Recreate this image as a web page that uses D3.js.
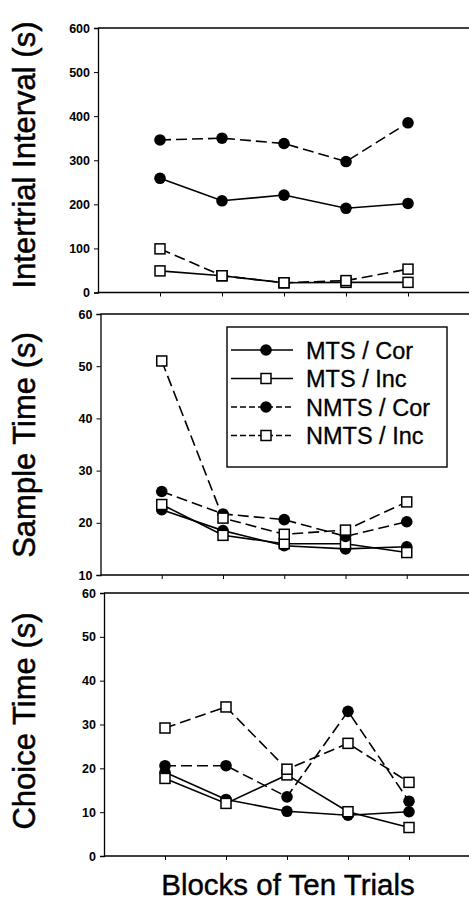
<!DOCTYPE html>
<html>
<head>
<meta charset="utf-8">
<script src="https://cdn.jsdelivr.net/npm/d3@7"></script>
<style>
  html, body { margin: 0; padding: 0; background: #fff; }
  svg { display: block; font-family: "Liberation Sans", Arial, sans-serif; }
</style>
</head>
<body>
<svg id="chart" width="469" height="911"></svg>
<script>
// block numbers on the x axis
const blocks = [1, 2, 3, 4, 5];

// Intertrial interval (s)
const itiMtsCor = [259, 208, 221, 191, 202];
const itiMtsInc = [49, 38, 22, 23, 23];
const itiNmtsCor = [346, 350, 338, 297, 385];
const itiNmtsInc = [99, 38, 22, 27, 53];

// Sample time (s)
const sampleMtsCor = [22.5, 18.5, 15.6, 15.0, 15.4];
const sampleMtsInc = [23.5, 17.6, 16.0, 16.0, 14.3];
const sampleNmtsCor = [26.0, 21.7, 20.6, 17.4, 20.2];
const sampleNmtsInc = [51.0, 20.9, 17.8, 18.6, 24.0];

// Choice time (s)
const choiceMtsCor = [19.1, 12.9, 10.2, 9.3, 10.1];
const choiceMtsInc = [17.7, 12.0, 18.5, 10.1, 6.5];
const choiceNmtsCor = [20.6, 20.6, 13.5, 33.0, 12.5];
const choiceNmtsInc = [29.2, 34.0, 19.8, 25.7, 16.8];

const seriesNames = ['MTS / Cor', 'MTS / Inc', 'NMTS / Cor', 'NMTS / Inc'];
const itiTicks = [0, 100, 200, 300, 400, 500, 600];
const sampleTicks = [10, 20, 30, 40, 50, 60];
const choiceTicks = [0, 10, 20, 30, 40, 50, 60];

// style per series: filled circle / open square, solid / dashed
const styles = [
  { marker: 'circle', dash: null },
  { marker: 'square', dash: null },
  { marker: 'circle', dash: '11,5' },
  { marker: 'square', dash: '11,5' }
];

const svg = d3.select('#chart');

// scanned panels are slightly shifted from one another
const panels = [
  { label: 'Intertrial Interval (s)', domain: [0, 600], ticks: itiTicks,
    xr: [98, 470], yr: [292.5, 28], labelY: 155,
    series: [itiMtsCor, itiMtsInc, itiNmtsCor, itiNmtsInc] },
  { label: 'Sample Time (s)', domain: [10, 60], ticks: sampleTicks,
    xr: [100.5, 468], yr: [575, 314], labelY: 445,
    series: [sampleMtsCor, sampleMtsInc, sampleNmtsCor, sampleNmtsInc] },
  { label: 'Choice Time (s)', domain: [0, 60], ticks: choiceTicks,
    xr: [104, 470], yr: [856, 593], labelY: 721,
    series: [choiceMtsCor, choiceMtsInc, choiceNmtsCor, choiceNmtsInc] }
];

function drawMarker(g, type, cx, cy) {
  if (type === 'circle') {
    g.append('circle')
      .attr('cx', cx).attr('cy', cy).attr('r', 5.8)
      .attr('fill', '#000');
  } else {
    g.append('rect')
      .attr('x', cx - 5).attr('y', cy - 5)
      .attr('width', 10).attr('height', 10)
      .attr('fill', '#fff').attr('stroke', '#000').attr('stroke-width', 1.5);
  }
}

panels.forEach(p => {
  const x = d3.scaleLinear().domain([0, 6]).range(p.xr);
  const y = d3.scaleLinear().domain(p.domain).range(p.yr);
  const g = svg.append('g');

  // top border line
  g.append('line')
    .attr('x1', p.xr[0]).attr('x2', 469)
    .attr('y1', p.yr[1]).attr('y2', p.yr[1])
    .attr('stroke', '#000').attr('stroke-width', 1.4);

  // y axis
  const yAxis = g.append('g')
    .attr('transform', `translate(${p.xr[0]},0)`)
    .call(d3.axisLeft(y).tickValues(p.ticks).tickSize(4).tickPadding(4));
  yAxis.select('.domain').attr('stroke-width', 1.3);
  yAxis.selectAll('text')
    .attr('font-size', 12.5).attr('font-weight', 'bold')
    .attr('font-family', '"Liberation Sans", Arial, sans-serif');

  // x axis
  const xAxis = g.append('g')
    .attr('transform', `translate(0,${p.yr[0]})`)
    .call(d3.axisBottom(x).tickValues(blocks).tickSize(4).tickFormat(''));
  xAxis.select('.domain')
    .attr('d', `M${p.xr[0]},0H469`)
    .attr('stroke-width', 1.5);

  // y label
  g.append('text')
    .attr('transform', `translate(35,${p.labelY}) rotate(-90)`)
    .attr('text-anchor', 'middle')
    .attr('font-size', 31)
    .attr('stroke', '#000').attr('stroke-width', 0.5)
    .text(p.label);

  const line = d3.line()
    .x((d, i) => x(blocks[i]))
    .y(d => y(d));

  p.series.forEach((vals, si) => {
    g.append('path')
      .datum(vals)
      .attr('d', line)
      .attr('fill', 'none')
      .attr('stroke', '#000')
      .attr('stroke-width', 1.6)
      .attr('stroke-dasharray', styles[si].dash);
  });
  p.series.forEach((vals, si) => {
    vals.forEach((v, i) => drawMarker(g, styles[si].marker, x(blocks[i]), y(v)));
  });
});

// legend
const legend = svg.append('g');
legend.append('rect')
  .attr('x', 227).attr('y', 327)
  .attr('width', 220).attr('height', 140)
  .attr('fill', '#fff').attr('stroke', '#000').attr('stroke-width', 1.4);

seriesNames.forEach((name, i) => {
  const ly = 350 + i * 28.5;
  legend.append('line')
    .attr('x1', 231).attr('x2', 293)
    .attr('y1', ly).attr('y2', ly)
    .attr('stroke', '#000').attr('stroke-width', 1.4)
    .attr('stroke-dasharray', styles[i].dash ? '6,3' : null);
  drawMarker(legend, styles[i].marker, 266, ly);
  legend.append('text')
    .attr('x', 306).attr('y', ly + 8.5)
    .attr('font-size', 23.5)
    .attr('stroke', '#000').attr('stroke-width', 0.3)
    .text(name);
});

// x label
svg.append('text')
  .attr('x', 288).attr('y', 895)
  .attr('text-anchor', 'middle')
  .attr('font-size', 29.5)
  .attr('stroke', '#000').attr('stroke-width', 0.4)
  .text('Blocks of Ten Trials');
</script>
</body>
</html>
